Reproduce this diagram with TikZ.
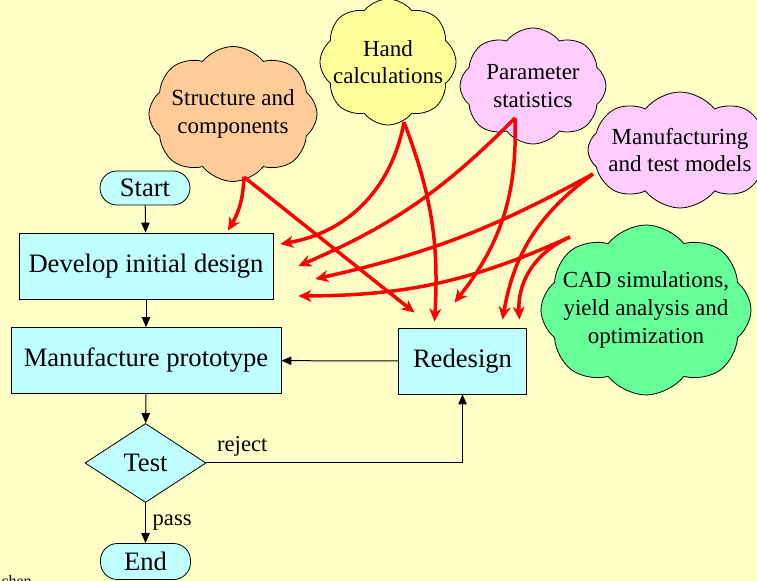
\documentclass[tikz,border=0pt]{standalone}
\usepackage{fontspec}
\setmainfont{Liberation Serif}
\usepackage{tikz}
\usetikzlibrary{arrows.meta, positioning, shapes.geometric, shapes.symbols}
\usepackage{xcolor}
\definecolor{paper}{RGB}{255,255,200}
\definecolor{boxfill}{RGB}{192,255,255}
\definecolor{peach}{RGB}{255,204,153}
\definecolor{lemon}{RGB}{255,255,153}
\definecolor{lilac}{RGB}{255,204,255}
\definecolor{mint}{RGB}{102,255,153}
\tikzset{%
	flow box/.style={
		rectangle,
		draw,
		fill=boxfill,
		inner sep=0pt,
		minimum height=33pt,
		font=\fontsize{13.3}{16}\selectfont
	},
	flow term/.style={
		flow box,
		rounded corners=8.5pt,
		minimum width=45pt,
		minimum height=17pt
	},
	flow test/.style={
		diamond,
		draw,
		fill=boxfill,
		inner sep=0pt,
		minimum width=60.5pt,
		minimum height=39.5pt,
		font=\fontsize{13.3}{16}\selectfont
	},
	idea cloud/.style={
		cloud,
		cloud puffs=8,
		cloud puff arc=105,
		cloud ignores aspect,
		draw,
		align=center,
		inner xsep=-6pt,
		inner ysep=-3pt,
		font=\fontsize{11.5}{13.8}\selectfont
	},
	flow label/.style={font=\fontsize{11.3}{13}\selectfont},
	flow arrow/.style={-{Triangle[length=5pt, width=4.2pt]}, line width=0.5pt},
	feed arrow/.style={-{Stealth[length=6.5pt, width=6pt, inset=2pt]}, draw=red, line width=1.75pt},
}
\begin{document}
\begin{tikzpicture}[x=0.5pt, y=0.5pt]
	\fill[paper] (0,0) rectangle (757,-581);
	\useasboundingbox (0,0) rectangle (757,-581);
	
	% flow chart
	\node[flow term] (start) at (145,-188) {Start};
	\node[flow box, minimum width=127pt] (dev) at (146,-266) {Develop initial design};
	\node[flow box, minimum width=135pt] (manuf) at (146,-360.5) {Manufacture prototype};
	\node[flow box, minimum width=64pt] (redesign) at (462.5,-361) {Redesign};
	\node[flow test] (test) at (145.5,-463) {Test};
	\node[flow term, minimum height=18pt] (stop) at (145.5,-561.5) {End};
	\node[font=\fontsize{8}{9}\selectfont, anchor=base west, inner sep=0pt] (credit) at (1,-587) {chen};
	
	% clouds
	\node[idea cloud, fill=peach, minimum width=84pt, minimum height=67.5pt] (struct) at (233,-114) {Structure and\\components};
	\node[idea cloud, fill=lemon, minimum width=68pt, minimum height=63pt] (hand) at (388,-62) {Hand\\calculations};
	\node[idea cloud, fill=lilac, minimum width=73pt, minimum height=58pt] (param) at (533,-86) {Parameter\\statistics};
	\node[idea cloud, fill=lilac, minimum width=92pt, minimum height=58pt] (model) at (680,-150) {Manufacturing\\and test models};
	\node[idea cloud, fill=mint, minimum width=105pt, minimum height=85pt] (cad) at (646,-310) {CAD simulations,\\yield analysis and\\optimization};
	
	\draw[flow arrow] (start) -- (dev);
	\draw[flow arrow] (dev) -- (manuf);
	\draw[flow arrow] (manuf) -- (test);
	\draw[flow arrow] (test) -- node[flow label, right] {pass} (stop);
	\draw[flow arrow] (redesign) -- (manuf);
	\draw[flow arrow] (test.east) -| node[flow label, pos=0.07, above] {reject} (redesign);
	
	% where the red arrows leave and arrive
	\coordinate (struct out) at ([shift={(11,-63)}]struct.center);
	\coordinate (hand out) at ([shift={(16,-60)}]hand.center);
	\coordinate (param out) at ([shift={(-18,-32)}]param.center);
	\coordinate (model out) at ([shift={(-87,-24)}]model.center);
	\coordinate (cad out) at ([shift={(-76,73)}]cad.center);
	\coordinate (d1) at ([shift={(82,2)}]dev.north);
	\coordinate (d2) at ([shift={(7,22)}]dev.east);
	\coordinate (d3) at ([shift={(25,0)}]dev.east);
	\coordinate (d4) at ([shift={(42,-13)}]dev.east);
	\coordinate (d5) at ([shift={(25,-30)}]dev.east);
	\coordinate (r1) at ([shift={(-48,15)}]redesign.north);
	\coordinate (r2) at ([shift={(-28,6)}]redesign.north);
	\coordinate (r3) at ([shift={(-8,25)}]redesign.north);
	\coordinate (r4) at ([shift={(40,8)}]redesign.north);
	\coordinate (r5) at ([shift={(57,8)}]redesign.north);
	
	\draw[feed arrow] (struct out) to[bend left=14] (d1);
	\draw[feed arrow] (struct out) -- (r1);
	\draw[feed arrow] (hand out) to[bend left=35] (d2);
	\draw[feed arrow] (hand out) to[bend left=12] (r2);
	\draw[feed arrow] (param out) to[bend left=11] (d3);
	\draw[feed arrow] (param out) to[bend left=20] (r3);
	\draw[feed arrow] (model out) to[bend left=8] (d4);
	\draw[feed arrow] (model out) to[bend right=22] (r4);
	\draw[feed arrow] (cad out) to[bend left=12] (d5);
	\draw[feed arrow] (cad out) to[bend right=35] (r5);
\end{tikzpicture}
\end{document}
